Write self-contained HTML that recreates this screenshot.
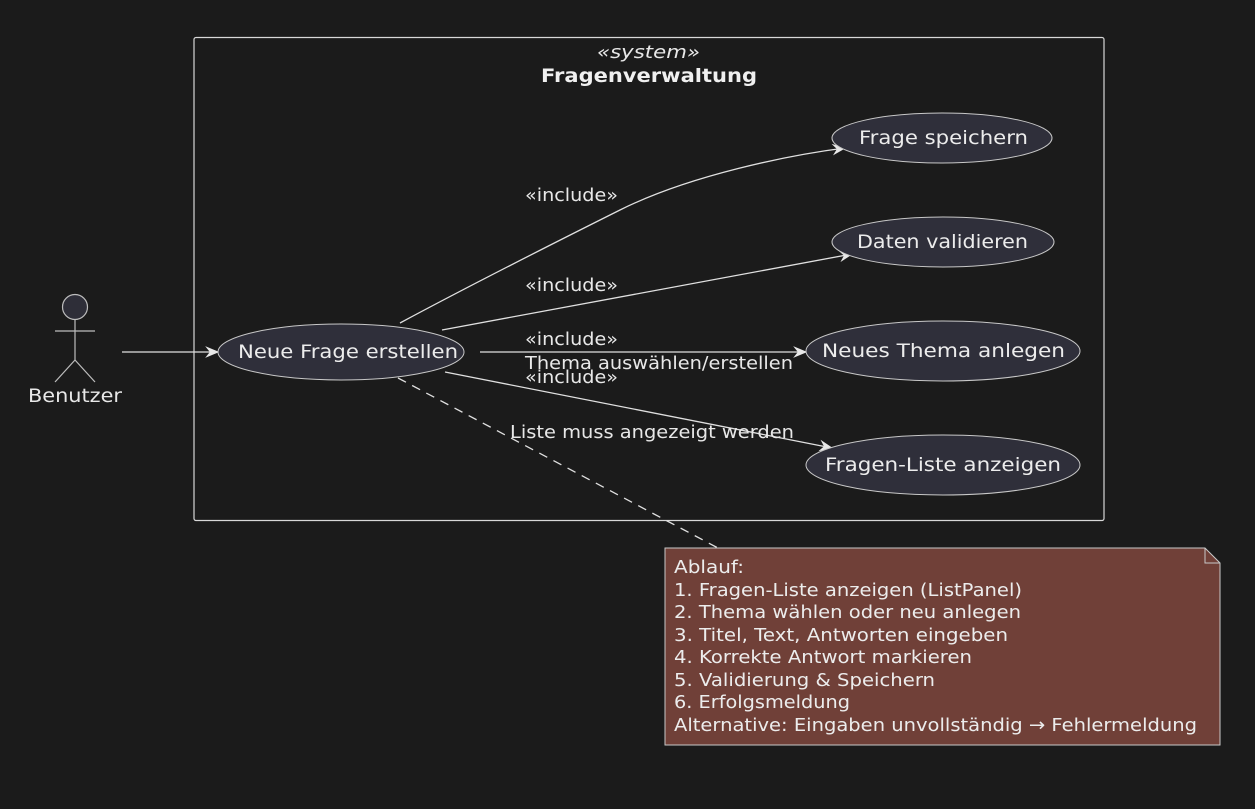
<!DOCTYPE html>
<html><head><meta charset="utf-8"><style>
html,body{margin:0;padding:0;background:#1b1b1b;}
svg{display:block;font-family:"DejaVu Sans","Liberation Sans",sans-serif;}
</style></head><body>
<svg width="1255" height="809" viewBox="0 0 1255 809" xmlns="http://www.w3.org/2000/svg">
<defs>
<marker id="a" viewBox="0 0 12 10" refX="11" refY="5" markerWidth="14" markerHeight="12" markerUnits="userSpaceOnUse" orient="auto">
<path d="M0,0 L12,5 L0,10 L4,5 Z" fill="#e8e8e8"/>
</marker>
</defs>
<rect width="1255" height="809" fill="#1b1b1b"/>
<rect x="194" y="37.5" width="910" height="483" fill="none" stroke="#d8d8d8" stroke-width="1.2" rx="2"/>
<text x="597" y="58" font-style="italic" font-size="18" fill="#e8e8e8" textLength="103" lengthAdjust="spacingAndGlyphs">«system»</text>
<text x="541" y="82" font-weight="bold" font-size="19" fill="#f0f0f0" textLength="216" lengthAdjust="spacingAndGlyphs">Fragenverwaltung</text>

<!-- actor -->
<circle cx="75" cy="307" r="12.5" fill="#2e2e38" stroke="#bdbdbd" stroke-width="1.2"/>
<line x1="75" y1="320" x2="75" y2="360" stroke="#bdbdbd" stroke-width="1.2"/>
<line x1="55" y1="331" x2="95" y2="331" stroke="#bdbdbd" stroke-width="1.2"/>
<line x1="75" y1="360" x2="55" y2="382" stroke="#bdbdbd" stroke-width="1.2"/>
<line x1="75" y1="360" x2="95" y2="382" stroke="#bdbdbd" stroke-width="1.2"/>
<text x="28" y="402" font-size="19" fill="#e8e8e8" textLength="94" lengthAdjust="spacingAndGlyphs">Benutzer</text>
<line x1="122" y1="352" x2="218" y2="352" stroke="#e0e0e0" stroke-width="1.3" marker-end="url(#a)"/>

<!-- connectors -->
<path d="M400,323 C480,280 560,240 620,210 C690,175 790,155 845,148" fill="none" stroke="#e0e0e0" stroke-width="1.3" marker-end="url(#a)"/>
<line x1="442" y1="330" x2="852" y2="254" stroke="#e0e0e0" stroke-width="1.3" marker-end="url(#a)"/>
<line x1="480" y1="352" x2="806" y2="352" stroke="#e0e0e0" stroke-width="1.3" marker-end="url(#a)"/>
<line x1="445" y1="372" x2="832" y2="448" stroke="#e0e0e0" stroke-width="1.3" marker-end="url(#a)"/>
<line x1="398" y1="378" x2="718" y2="548" stroke="#e0e0e0" stroke-width="1.3" stroke-dasharray="9,7"/>

<g font-size="18" fill="#e8e8e8">
<text x="525" y="201" textLength="93" lengthAdjust="spacingAndGlyphs">«include»</text>
<text x="525" y="291" textLength="93" lengthAdjust="spacingAndGlyphs">«include»</text>
<text x="525" y="345" textLength="93" lengthAdjust="spacingAndGlyphs">«include»</text>
<text x="525" y="369" textLength="268" lengthAdjust="spacingAndGlyphs">Thema auswählen/erstellen</text>
<text x="525" y="383" textLength="93" lengthAdjust="spacingAndGlyphs">«include»</text>
<text x="510" y="438" textLength="284" lengthAdjust="spacingAndGlyphs">Liste muss angezeigt werden</text>
</g>

<!-- use cases -->
<g fill="#2f2f3a" stroke="#c8c8c8" stroke-width="1">
<ellipse cx="341" cy="352" rx="123" ry="28"/>
<ellipse cx="942" cy="138" rx="110" ry="25"/>
<ellipse cx="943" cy="242" rx="111" ry="25"/>
<ellipse cx="943" cy="351" rx="137" ry="30"/>
<ellipse cx="943" cy="465" rx="137" ry="30"/>
</g>
<g font-size="19" fill="#ececec">
<text x="238" y="358" textLength="220" lengthAdjust="spacingAndGlyphs">Neue Frage erstellen</text>
<text x="859" y="144" textLength="169" lengthAdjust="spacingAndGlyphs">Frage speichern</text>
<text x="857" y="248" textLength="171" lengthAdjust="spacingAndGlyphs">Daten validieren</text>
<text x="822" y="357" textLength="243" lengthAdjust="spacingAndGlyphs">Neues Thema anlegen</text>
<text x="825" y="471" textLength="236" lengthAdjust="spacingAndGlyphs">Fragen-Liste anzeigen</text>
</g>

<!-- note -->
<path d="M665,548 L1205,548 L1220,563 L1220,745 L665,745 Z" fill="#704038" stroke="#c8c8c8" stroke-width="1"/>
<path d="M1205,548 L1205,563 L1220,563" fill="none" stroke="#c8c8c8" stroke-width="1"/>
<g font-size="18" fill="#ececec">
<text x="674" y="573" textLength="70" lengthAdjust="spacingAndGlyphs">Ablauf:</text>
<text x="674" y="596" textLength="348" lengthAdjust="spacingAndGlyphs">1. Fragen-Liste anzeigen (ListPanel)</text>
<text x="674" y="618" textLength="347" lengthAdjust="spacingAndGlyphs">2. Thema wählen oder neu anlegen</text>
<text x="674" y="641" textLength="334" lengthAdjust="spacingAndGlyphs">3. Titel, Text, Antworten eingeben</text>
<text x="674" y="663" textLength="298" lengthAdjust="spacingAndGlyphs">4. Korrekte Antwort markieren</text>
<text x="674" y="686" textLength="261" lengthAdjust="spacingAndGlyphs">5. Validierung &amp; Speichern</text>
<text x="674" y="708" textLength="176" lengthAdjust="spacingAndGlyphs">6. Erfolgsmeldung</text>
<text x="674" y="731" textLength="523" lengthAdjust="spacingAndGlyphs">Alternative: Eingaben unvollständig → Fehlermeldung</text>
</g>
</svg>
</body></html>
